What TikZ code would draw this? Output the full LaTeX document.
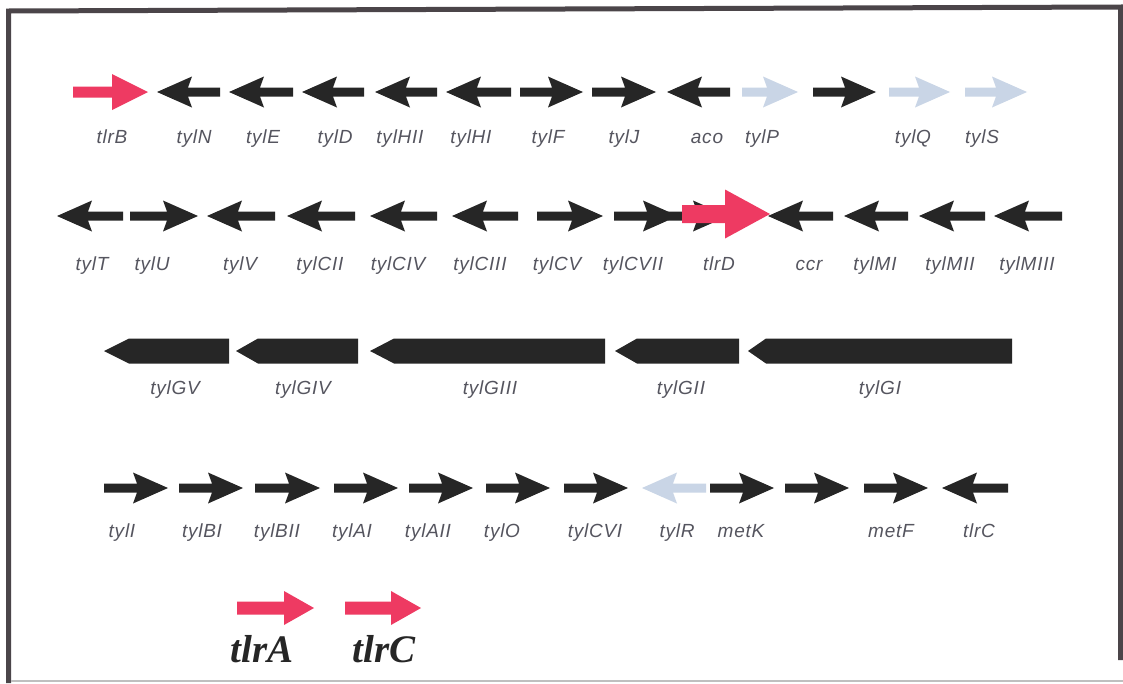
\documentclass[tikz,border=0pt]{standalone}
\usepackage{fontspec}
\newfontfamily\genefont[LetterSpace=4]{Liberation Sans}
\newfontfamily\bigfont{Liberation Serif}
\definecolor{framegray}{HTML}{4B4549}
\definecolor{geneblack}{HTML}{262626}
\definecolor{genered}{HTML}{EE3A62}
\definecolor{genepale}{HTML}{C9D5E6}
\definecolor{labelgray}{HTML}{55555F}

% \genearrow{fill}{tail x}{tip x}{y}{head length}{head half-height}{shaft half-width}
\newcommand{\genearrow}[7]{%
  \pgfmathsetmacro\gdir{ifthenelse(#3>#2,1,-1)}%
  \pgfmathsetmacro\gneck{#3-\gdir*#5}%
  \fill[#1] ({#2},{#4-#7}) -- (\gneck,{#4-#7}) -- (\gneck,{#4-#6}) -- ({#3},{#4})
     -- (\gneck,{#4+#6}) -- (\gneck,{#4+#7}) -- ({#2},{#4+#7}) -- cycle;}
% small gene arrow with swept-back barbs
\newcommand{\smallgene}[4]{%
  \pgfmathsetmacro\gdir{ifthenelse(#3>#2,1,-1)}%
  \pgfmathsetmacro\gneck{#3-\gdir*31}%
  \pgfmathsetmacro\gbarb{#3-\gdir*35}%
  \fill[#1] ({#2},{#4-4.5}) -- (\gneck,{#4-4.5}) -- (\gbarb,{#4-15.5}) -- ({#3},{#4})
     -- (\gbarb,{#4+15.5}) -- (\gneck,{#4+4.5}) -- ({#2},{#4+4.5}) -- cycle;}
% block arrow (pentagon) pointing left: tip, neck, tail, y
\newcommand{\blockgene}[4]{%
  \fill[geneblack] ({#1},{#4}) -- ({#2},{#4-12.5}) -- ({#3},{#4-12.5})
     -- ({#3},{#4+12.5}) -- ({#2},{#4+12.5}) -- cycle;}

\tikzset{
  genelabel/.style={anchor=base, text=labelgray, inner sep=0pt,
    font=\genefont\itshape\fontsize{19}{19}\selectfont},
  biglabel/.style={anchor=base, text=black!85, inner sep=0pt,
    font=\bigfont\bfseries\itshape\fontsize{39}{39}\selectfont},
  framerule/.style={draw=framegray, line width=5pt}
}

\begin{document}
\begin{tikzpicture}[x=1pt,y=-1pt]
\useasboundingbox (0,0) rectangle (1123,683);
\fill[white] (0,0) rectangle (1123,683);

% frame
\coordinate (ftl) at (8.5,11);
\coordinate (ftr) at (1120.5,7);
\coordinate (fbl) at (8.5,683);
\coordinate (fbr) at (1120.5,660);
\draw[framerule] (fbl) -- (ftl) -- (ftr) -- (fbr);
\draw[black!25, line width=1.5pt] (11,681) -- (1123,681);

% ---------- row 1 ----------
\genearrow{genered}{73}{148}{92}{36}{18}{5.5}
\smallgene{geneblack}{220}{157}{92}
\smallgene{geneblack}{293}{229}{92}
\smallgene{geneblack}{364}{302}{92}
\smallgene{geneblack}{437}{375}{92}
\smallgene{geneblack}{511}{446}{92}
\smallgene{geneblack}{520}{583}{92}
\smallgene{geneblack}{592}{656}{92}
\smallgene{geneblack}{730}{667}{92}
\smallgene{genepale}{742}{798}{92}
\smallgene{geneblack}{813}{876}{92}
\smallgene{genepale}{889}{950}{92}
\smallgene{genepale}{965}{1027}{92}

\node[genelabel] (tlrB) at (112,143) {tlrB};
\node[genelabel] (tylN) at (194,143) {tylN};
\node[genelabel] (tylE) at (263,143) {tylE};
\node[genelabel] (tylD) at (335,143) {tylD};
\node[genelabel] (tylHII) at (400,143) {tylHII};
\node[genelabel] (tylHI) at (471,143) {tylHI};
\node[genelabel] (tylF) at (548,143) {tylF};
\node[genelabel] (tylJ) at (624,143) {tylJ};
\node[genelabel] (aco) at (707,143) {aco};
\node[genelabel] (tylP) at (762,143) {tylP};
\node[genelabel] (tylQ) at (913,143) {tylQ};
\node[genelabel] (tylS) at (982,143) {tylS};

% ---------- row 2 ----------
\smallgene{geneblack}{123}{57}{216}
\smallgene{geneblack}{130}{198}{216}
\smallgene{geneblack}{275}{207}{216}
\smallgene{geneblack}{355}{287}{216}
\smallgene{geneblack}{437}{370}{216}
\smallgene{geneblack}{518}{452}{216}
\smallgene{geneblack}{537}{603}{216}
\smallgene{geneblack}{614}{678}{216}
\smallgene{geneblack}{668}{728}{216}
\genearrow{genered}{682}{770}{214}{45}{24.5}{9}
\smallgene{geneblack}{833}{768}{216}
\smallgene{geneblack}{908}{844}{216}
\smallgene{geneblack}{985}{919}{216}
\smallgene{geneblack}{1062}{994}{216}

\node[genelabel] (tylT) at (92,270) {tylT};
\node[genelabel] (tylU) at (152,270) {tylU};
\node[genelabel] (tylV) at (240,270) {tylV};
\node[genelabel] (tylCII) at (320,270) {tylCII};
\node[genelabel] (tylCIV) at (398,270) {tylCIV};
\node[genelabel] (tylCIII) at (480,270) {tylCIII};
\node[genelabel] (tylCV) at (557,270) {tylCV};
\node[genelabel] (tylCVII) at (633,270) {tylCVII};
\node[genelabel] (tlrD) at (719,270) {tlrD};
\node[genelabel] (ccr) at (809,270) {ccr};
\node[genelabel] (tylMI) at (875,270) {tylMI};
\node[genelabel] (tylMII) at (950,270) {tylMII};
\node[genelabel] (tylMIII) at (1027,270) {tylMIII};

% ---------- row 3 ----------
\blockgene{104}{129}{229}{351}
\blockgene{236}{258}{358}{351}
\blockgene{370}{394}{605}{351}
\blockgene{615}{637}{739}{351}
\blockgene{748}{766}{1012}{351}

\node[genelabel] (tylGV) at (175,394) {tylGV};
\node[genelabel] (tylGIV) at (303,394) {tylGIV};
\node[genelabel] (tylGIII) at (490,394) {tylGIII};
\node[genelabel] (tylGII) at (681,394) {tylGII};
\node[genelabel] (tylGI) at (880,394) {tylGI};

% ---------- row 4 ----------
\smallgene{geneblack}{104}{168}{488}
\smallgene{geneblack}{179}{243}{488}
\smallgene{geneblack}{255}{320}{488}
\smallgene{geneblack}{334}{398}{488}
\smallgene{geneblack}{409}{473}{488}
\smallgene{geneblack}{486}{550}{488}
\smallgene{geneblack}{564}{628}{488}
\smallgene{genepale}{706}{642}{488}
\smallgene{geneblack}{710}{774}{488}
\smallgene{geneblack}{785}{849}{488}
\smallgene{geneblack}{864}{928}{488}
\smallgene{geneblack}{1008}{942}{488}

\node[genelabel] (tylI) at (122,537) {tylI};
\node[genelabel] (tylBI) at (202,537) {tylBI};
\node[genelabel] (tylBII) at (277,537) {tylBII};
\node[genelabel] (tylAI) at (352,537) {tylAI};
\node[genelabel] (tylAII) at (428,537) {tylAII};
\node[genelabel] (tylO) at (502,537) {tylO};
\node[genelabel] (tylCVI) at (595,537) {tylCVI};
\node[genelabel] (tylR) at (677,537) {tylR};
\node[genelabel] (metK) at (741,537) {metK};
\node[genelabel] (metF) at (891,537) {metF};
\node[genelabel] (tlrCrow) at (979,537) {tlrC};

% ---------- resistance genes ----------
\genearrow{genered}{237}{314}{608}{30}{17}{6.5}
\genearrow{genered}{345}{421}{608}{30}{17}{6.5}
\node[biglabel] (tlrA) at (262,662) {tlrA};
\node[biglabel] (tlrC) at (384,662) {tlrC};
\end{tikzpicture}
\end{document}
